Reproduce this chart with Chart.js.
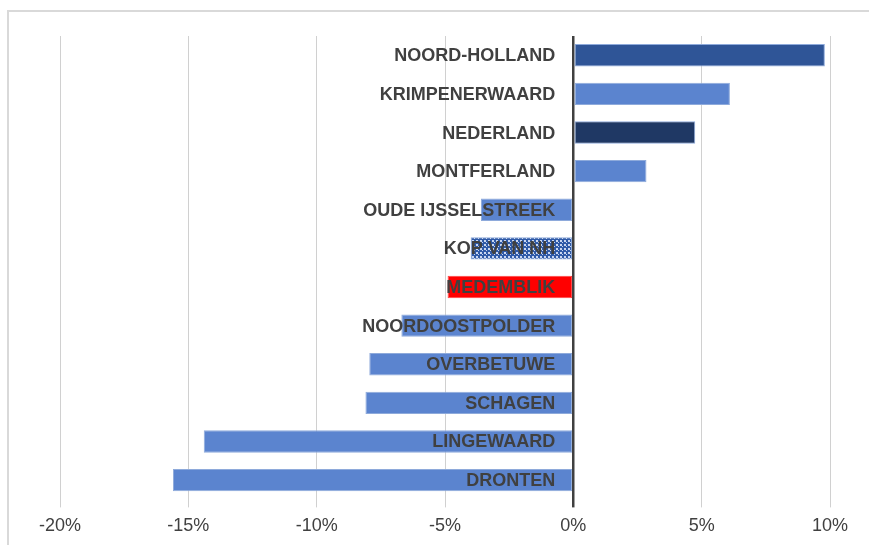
<!DOCTYPE html>
<html>
<head>
<meta charset="utf-8">
<script src="https://cdn.jsdelivr.net/npm/chart.js@4"></script>
<style>
  body { margin: 0; background: #fff; overflow: hidden; }
  #frame { position: absolute; left: 7px; top: 10px; width: 900px; height: 600px; border: 2px solid #d9d9d9; }
  #wrap { position: absolute; left: 0; top: 0; width: 869px; height: 545px; }
</style>
</head>
<body>
<div id="frame"></div>
<div id="wrap"><canvas id="bars"></canvas></div>
<script>
// regions, top to bottom
const regions = [
  "NOORD-HOLLAND",
  "KRIMPENERWAARD",
  "NEDERLAND",
  "MONTFERLAND",
  "OUDE IJSSELSTREEK",
  "KOP VAN NH",
  "MEDEMBLIK",
  "NOORDOOSTPOLDER",
  "OVERBETUWE",
  "SCHAGEN",
  "LINGEWAARD",
  "DRONTEN",
];
// change in percent
const change = [9.8, 6.1, 4.75, 2.85, -3.6, -4.0, -4.9, -6.7, -7.95, -8.1, -14.4, -15.6];
const xTicks = [-20, -15, -10, -5, 0, 5, 10];

// dotted fill for Kop van NH
function dots() {
  const c = document.createElement("canvas");
  c.width = 4;
  c.height = 4;
  const g = c.getContext("2d");
  g.fillStyle = "#2f5aa8";
  g.fillRect(0, 0, 4, 4);
  g.fillStyle = "#c9d6f0";
  g.fillRect(0, 0, 2, 2);
  g.fillRect(2, 2, 1, 1);
  return g.createPattern(c, "repeat");
}

const light = "#5b84cf";
const colors = regions.map((r) => {
  if (r === "NOORD-HOLLAND") return "#2f5597";
  if (r === "NEDERLAND") return "#1f3864";
  if (r === "MEDEMBLIK") return "#ff0000";
  if (r === "KOP VAN NH") return dots();
  return light;
});
const borders = regions.map((r) => (r === "MEDEMBLIK" ? "#ff4040" : "#8eaadb"));

// names drawn over the bars, right aligned to the zero line
const namePlugin = {
  id: "names",
  afterDatasetsDraw(chart) {
    const ctx = chart.ctx;
    const x0 = chart.scales.x.getPixelForValue(0);
    ctx.save();
    ctx.font = "bold 18px 'Liberation Sans', Arial, sans-serif";
    ctx.fillStyle = "#404040";
    ctx.textAlign = "right";
    ctx.textBaseline = "middle";
    regions.forEach((r, i) => {
      ctx.fillText(r, x0 - 18, chart.scales.y.getPixelForValue(i) + 1);
    });
    ctx.restore();
  },
};

const ctx = document.getElementById("bars").getContext("2d");
const barChart = new Chart(ctx, {
  type: "bar",
  data: {
    labels: regions,
    datasets: [
      {
        data: change,
        backgroundColor: colors,
        borderColor: borders,
        borderWidth: 1,
        borderSkipped: false,
        barPercentage: 0.58,
        categoryPercentage: 1,
      },
    ],
  },
  options: {
    indexAxis: "y",
    responsive: true,
    maintainAspectRatio: false,
    animation: false,
    layout: { padding: { left: 60, right: 39, top: 36, bottom: 0 } },
    plugins: { legend: { display: false }, tooltip: { enabled: false } },
    scales: {
      x: {
        min: -20,
        max: 10,
        afterBuildTicks: (s) => {
          s.ticks = xTicks.map((v) => ({ value: v }));
        },
        border: { display: false },
        grid: {
          color: (c) => (c.tick && c.tick.value === 0 ? "#404040" : "#d0d0d0"),
          lineWidth: (c) => (c.tick && c.tick.value === 0 ? 2.5 : 1),
          tickLength: 8,
        },
        ticks: {
          padding: 8,
          color: "#404040",
          font: { family: "'Liberation Sans', Arial, sans-serif", size: 18 },
          callback: (v) => v + "%",
        },
      },
      y: {
        display: false,
        grid: { display: false },
      },
    },
  },
  plugins: [namePlugin],
});
</script>
</body>
</html>
